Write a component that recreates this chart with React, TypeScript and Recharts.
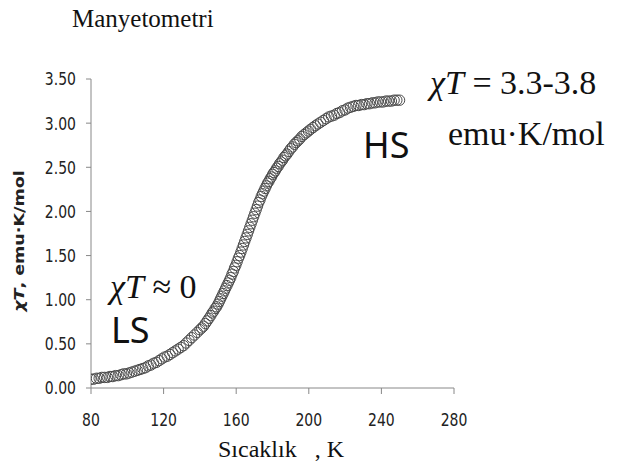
import React from "react";
import { ScatterChart, Scatter, XAxis, YAxis } from "recharts";

const temperatures: number[] = [
  80, 81.5, 83, 84.5, 86, 87.5, 89, 90.5, 92, 93.5, 95, 96.5, 98, 99.5, 101, 102.5, 104, 105.5, 107, 108.5,
  110, 111.5, 113, 114.5, 116, 117.5, 119, 120.5, 122, 123.5, 125, 126.5, 128, 129.5, 131, 132.5, 134, 135.5, 137, 138.5,
  140, 141, 142, 143, 144, 145, 146, 146.8, 147.6, 148.4, 149.2, 150, 150.7, 151.4, 152.1, 152.8, 153.5, 154.2, 154.9, 155.6,
  156.3, 157, 157.7, 158.4, 159.1, 159.8, 160.5, 161.2, 161.9, 162.6, 163.3, 164, 164.7, 165.4, 166.1, 166.8, 167.5, 168.2, 168.9, 169.6,
  170.3, 171, 171.7, 172.4, 173.1, 173.8, 174.5, 175.2, 175.9, 176.6, 177.3, 178, 178.7, 179.4, 180.1, 180.8, 181.5, 182.3, 183.1, 183.9,
  184.7, 185.5, 186.3, 187.1, 188, 189, 190, 191, 192, 193, 194, 195, 196.2, 197.4, 198.6, 199.8, 201, 202.3, 203.6, 205,
  206.5, 208, 209.5, 211, 212.5, 214, 215.5, 217, 218.5, 220, 221.5, 223, 224.5, 226, 227.5, 229, 230.5, 232, 233.5, 235,
  236.5, 238, 239.5, 241, 242.5, 244, 245.5, 247, 248.5, 250,
];

const chiT: number[] = [
  0.10, 0.10, 0.11, 0.11, 0.12, 0.12, 0.12, 0.13, 0.13, 0.14, 0.14, 0.15, 0.16, 0.16, 0.17, 0.18, 0.19, 0.20, 0.21, 0.22,
  0.23, 0.25, 0.26, 0.28, 0.29, 0.31, 0.33, 0.35, 0.36, 0.38, 0.40, 0.42, 0.44, 0.46, 0.48, 0.51, 0.54, 0.57, 0.60, 0.63,
  0.66, 0.68, 0.70, 0.73, 0.76, 0.79, 0.82, 0.85, 0.87, 0.90, 0.92, 0.95, 0.98, 1.01, 1.04, 1.07, 1.10, 1.13, 1.16, 1.19,
  1.22, 1.25, 1.29, 1.32, 1.36, 1.39, 1.43, 1.47, 1.50, 1.54, 1.58, 1.62, 1.66, 1.70, 1.74, 1.78, 1.82, 1.86, 1.90, 1.94,
  1.98, 2.02, 2.06, 2.10, 2.13, 2.17, 2.20, 2.23, 2.26, 2.29, 2.32, 2.34, 2.37, 2.39, 2.42, 2.44, 2.46, 2.49, 2.51, 2.54,
  2.56, 2.58, 2.61, 2.63, 2.65, 2.68, 2.71, 2.73, 2.76, 2.78, 2.80, 2.82, 2.85, 2.87, 2.89, 2.91, 2.93, 2.95, 2.97, 2.99,
  3.01, 3.03, 3.05, 3.07, 3.08, 3.09, 3.11, 3.12, 3.14, 3.15, 3.17, 3.18, 3.19, 3.20, 3.20, 3.21, 3.21, 3.22, 3.22, 3.23,
  3.23, 3.24, 3.24, 3.24, 3.25, 3.25, 3.25, 3.26, 3.26, 3.26,
];

const xTicks: number[] = [80, 120, 160, 200, 240, 280];
const yTicks: number[] = [0, 0.5, 1, 1.5, 2, 2.5, 3, 3.5];

const data = temperatures.map((t, i) => ({ t, v: chiT[i] }));

const SANS = "'DejaVu Sans', Verdana, sans-serif";
const SERIF = "'Liberation Serif', 'Times New Roman', serif";

const YTick = (props: any) => {
  const { x, y, payload } = props;
  return (
    <text
      transform={`translate(${x},${y}) scale(1,1.3)`}
      textAnchor="end"
      dy="0.355em"
      fontFamily={SANS}
      fontSize={14}
      fill="#222"
    >
      {Number(payload.value).toFixed(2)}
    </text>
  );
};

const XTick = (props: any) => {
  const { x, y, payload } = props;
  return (
    <text
      transform={`translate(${x},${y}) scale(1,1.3)`}
      textAnchor="middle"
      dy="0.71em"
      fontFamily={SANS}
      fontSize={14}
      fill="#222"
    >
      {payload.value}
    </text>
  );
};

const Ring = (props: any) => (
  <circle cx={props.cx} cy={props.cy} r={5.2} fill="none" stroke="#4a4a4a" strokeWidth={1} />
);

export default function App() {
  return (
    <div style={{ position: "absolute", left: 0, top: 0, width: 617, height: 466, background: "#fff" }}>
      <ScatterChart
        width={617}
        height={466}
        margin={{ top: 79, right: 163, bottom: 0, left: 0 }}
      >
        <XAxis
          type="number"
          dataKey="t"
          domain={[80, 280]}
          ticks={xTicks}
          height={78}
          tickSize={6}
          tickMargin={19}
          stroke="#888"
          tick={<XTick />}
          allowDataOverflow
        />
        <YAxis
          type="number"
          dataKey="v"
          domain={[0, 3.5]}
          ticks={yTicks}
          width={91}
          tickSize={5}
          tickMargin={10}
          stroke="#888"
          tick={<YTick />}
          allowDataOverflow
        />
        <Scatter data={data} shape={<Ring />} isAnimationActive={false} />
      </ScatterChart>
      <svg
        width={617}
        height={466}
        style={{ position: "absolute", left: 0, top: 0, pointerEvents: "none" }}
      >
        <text x={72} y={27} fontFamily={SERIF} fontSize={25} fill="#111">
          Manyetometri
        </text>
        <text
          transform="translate(24,241) scale(1,1.3) rotate(-90)"
          textAnchor="middle"
          fontFamily={SANS}
          fontSize={13.5}
          fontWeight="bold"
          fill="#222"
        >
          <tspan fontStyle="italic">χT</tspan>, emu·K/mol
        </text>
        <text x={218} y={457} fontFamily={SERIF} fontSize={24} fill="#111">
          {"Sıcaklık\u00a0\u00a0\u00a0, K"}
        </text>
        <text x={110} y={298} fontFamily={SERIF} fontSize={34} fill="#111">
          <tspan fontStyle="italic">χT</tspan> ≈ 0
        </text>
        <text x={111} y={343} fontFamily="'Noto Sans', sans-serif" fontSize={36} fill="#111">
          LS
        </text>
        <text x={363} y={158} fontFamily="'Noto Sans', sans-serif" fontSize={36} fill="#111">
          HS
        </text>
        <text x={430} y={94} fontFamily={SERIF} fontSize={34} fill="#111">
          <tspan fontStyle="italic">χT</tspan> = 3.3-3.8
        </text>
        <text x={448} y={145} fontFamily={SERIF} fontSize={34} fill="#111">
          emu·K/mol
        </text>
      </svg>
    </div>
  );
}
